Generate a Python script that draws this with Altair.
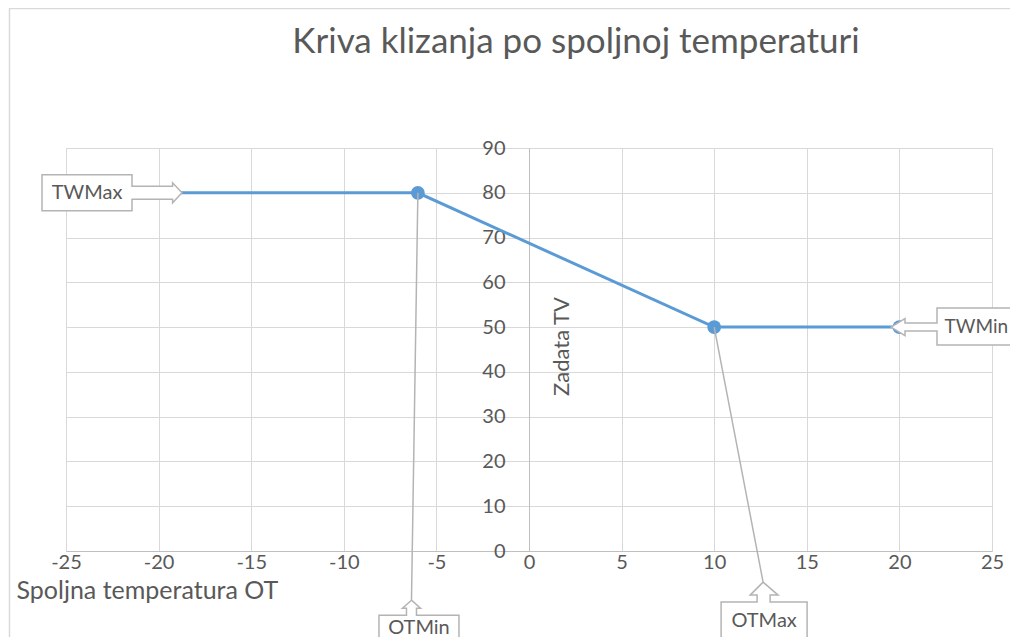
import altair as alt
import pandas as pd

# ---- data ----
ot = [-20, -6, 10, 20]
tv = [80, 80, 50, 50]
x_ticks = [-25, -20, -15, -10, -5, 0, 5, 10, 15, 20, 25]
y_ticks = [0, 10, 20, 30, 40, 50, 60, 70, 80, 90]
callout_names = ["TWMax", "OTMin", "OTMax", "TWMin"]
callout_point = [0, 1, 2, 3]

title_text = "Kriva klizanja po spoljnoj temperaturi"
x_title = "Spoljna temperatura OT"
y_title = "Zadata TV"

BLUE = "#5B9BD5"
TXT = "#595959"
GRID = "#D9D9D9"
AX = "#BFBFBF"
BOX = "#B4B4B4"
FONT = "Lato"

W, H = 926, 403

df = pd.DataFrame({"ot": ot, "tv": tv})

xs = alt.Scale(domain=[-25, 25], nice=False, zero=False)
ys = alt.Scale(domain=[0, 90], nice=False, zero=True)

x_axis = alt.Axis(
    values=x_ticks, grid=True, gridColor=GRID, gridWidth=1,
    domainColor=AX, domainWidth=1, ticks=False,
    labelExpr="'' + datum.value",
    labelFontSize=20, labelColor=TXT, labelFont=FONT, labelPadding=1,
    labelFlush=False, labelOverlap=False,
    title=x_title, titleX=-50, titleY=39, titleAlign="left",
    titleBaseline="middle", titleFontSize=25, titleFontWeight="normal",
    titleColor=TXT, titleFont=FONT,
)
y_axis = alt.Axis(
    values=y_ticks, grid=True, gridColor=GRID, gridWidth=1,
    domainColor=AX, domainWidth=1, ticks=False, offset=-463,
    labelExpr="'' + datum.value",
    labelFontSize=20, labelColor=TXT, labelFont=FONT, labelPadding=24,
    labelFlush=False, labelOverlap=False,
    title=y_title, titleX=32, titleY=198, titleAngle=270, titleAlign="center",
    titleBaseline="middle", titleFontSize=22, titleFontWeight="normal",
    titleColor=TXT, titleFont=FONT,
)

X = alt.X("ot:Q", scale=xs, axis=x_axis)
Y = alt.Y("tv:Q", scale=ys, axis=y_axis)

base = alt.Chart(df)

one = pd.DataFrame({"t": [title_text]})
border = alt.Chart(one).mark_rect(
    fill="transparent", stroke=GRID, strokeWidth=1.5
).encode(
    x=alt.value(-56.5), x2=alt.value(W + 80),
    y=alt.value(-139.5), y2=alt.value(H + 200),
)
title = alt.Chart(one).mark_text(
    fontSize=35, font=FONT, color=TXT, align="center", baseline="middle"
).encode(x=alt.value(W / 2 + 47), y=alt.value(-106), text="t:N")

line = base.mark_line(color=BLUE, strokeWidth=3).encode(x=X, y=Y)
points = base.mark_point(
    filled=True, size=190, color=BLUE, opacity=1, strokeWidth=0
).encode(x="ot:Q", y="tv:Q")

# callout shapes (pixel offsets relative to the data point)
shapes = {
    "TWMax": "M -116.6 -18 L -26.6 -18 L -26.6 -6.5 L 14 -6.5 L 14 -10 L 23.4 0 "
             "L 14 10 L 14 6.5 L -26.6 6.5 L -26.6 18 L -116.6 18 Z",
    "TWMin": "M -8.4 0 L 5.6 -8.5 L 5.6 -4 L 37.6 -4 L 37.6 -19 L 140 -19 "
             "L 140 18 L 37.6 18 L 37.6 4 L 5.6 4 L 5.6 8.5 Z",
    "OTMin": "M 0 0 L -6.4 407.4 M -6.4 407.4 L 2.6 415.4 L -1.4 415.4 L -1.4 422.4 "
             "L 41.1 422.4 L 41.1 470 L -38.9 470 L -38.9 422.4 L -11.4 422.4 "
             "L -11.4 415.4 L -15.4 415.4 Z",
    "OTMax": "M 0 0 L 48.9 255 M 48.9 255 L 63.9 268 L 55.9 268 L 55.9 275 "
             "L 92.9 275 L 92.9 330 L 6.9 330 L 6.9 275 L 42.9 275 L 42.9 268 "
             "L 35.9 268 Z",
}
text_pos = {
    "TWMax": (-71.6, 0, "center", 20),
    "TWMin": (45.1, 0, "left", 19),
    "OTMin": (1.1, 435, "center", 20),
    "OTMax": (49.9, 294, "center", 20),
}

layers = [border, title, line, points]
for name, idx in zip(callout_names, callout_point):
    cdf = pd.DataFrame({"ot": [ot[idx]], "tv": [tv[idx]], "label": [name]})
    c = alt.Chart(cdf)
    shp = c.mark_point(
        shape=shapes[name], size=4, filled=True, fill="white", fillOpacity=1,
        stroke=BOX, strokeWidth=1.5, opacity=1,
    ).encode(x="ot:Q", y="tv:Q")
    dx, dy, al, fs = text_pos[name]
    txt = c.mark_text(
        dx=dx, dy=dy, align=al, baseline="middle", fontSize=fs,
        font=FONT, color=TXT,
    ).encode(x="ot:Q", y="tv:Q", text="label:N")
    layers += [shp, txt]

chart = alt.layer(*layers).properties(
    width=W, height=H,
    autosize=alt.AutoSizeParams(type="none"),
    padding={"left": 58, "top": 140, "right": 18, "bottom": 86},
).configure_view(stroke=None).configure(background="white")

chart.save("out.html", embed_options={"renderer": "svg", "actions": False})
